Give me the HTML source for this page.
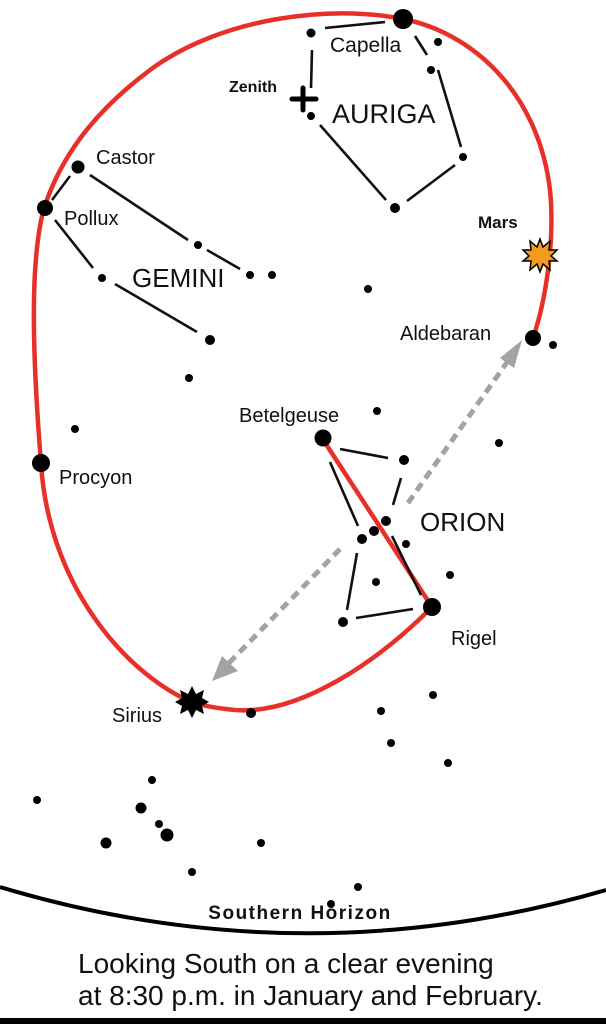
<!DOCTYPE html>
<html><head><style>body{margin:0;background:#fff}svg{display:block}text{font-family:"Liberation Sans",sans-serif;fill:#111}</style></head>
<body>
<svg width="606" height="1024" viewBox="0 0 606 1024" xmlns="http://www.w3.org/2000/svg">
<rect width="606" height="1024" fill="#fff"/>
<path d="M322,438 L432,607 C380,660 300,715 235,710 C215,708 200,705 191,702 C120,670 48,580 41,463 C32,350 30,260 44,208 C60,160 90,115 150,70 C220,18 330,4 403,19 C470,32 538,90 550,190 C555,240 546,300 533,338" fill="none" stroke="#e8302a" stroke-width="4.5"/>
<g stroke="#111" stroke-width="2.6" fill="none">
<line x1="325" y1="28" x2="385" y2="22"/>
<line x1="312" y1="50" x2="311" y2="88"/>
<line x1="415" y1="36" x2="427" y2="55"/>
<line x1="438" y1="70" x2="461" y2="147"/>
<line x1="455" y1="165" x2="407" y2="201"/>
<line x1="386" y1="200" x2="320" y2="125"/>
<line x1="70" y1="176" x2="52" y2="200"/>
<line x1="90" y1="175" x2="188" y2="240"/>
<line x1="207" y1="250" x2="240" y2="269"/>
<line x1="55" y1="220" x2="93" y2="268"/>
<line x1="115" y1="284" x2="197" y2="332"/>
<line x1="340" y1="449" x2="388" y2="458"/>
<line x1="401" y1="478" x2="393" y2="505"/>
<line x1="330" y1="462" x2="358" y2="526"/>
<line x1="357" y1="553" x2="347" y2="610"/>
<line x1="356" y1="618" x2="413" y2="609"/>
<line x1="392" y1="536" x2="421" y2="595"/>
</g>
<g stroke="#a3a3a3" stroke-width="5" stroke-dasharray="9,6" fill="none">
<line x1="408" y1="503" x2="510" y2="358"/>
<line x1="340" y1="549" x2="228" y2="664"/>
</g>
<polygon points="522,340 500,358 514,368" fill="#a3a3a3"/>
<polygon points="212,681 222,656 238,671" fill="#a3a3a3"/>
<g fill="#000">
<circle cx="403" cy="19" r="10"/>
<circle cx="311" cy="33" r="4.5"/><circle cx="438" cy="42" r="4"/><circle cx="431" cy="70" r="4"/>
<circle cx="463" cy="157" r="4"/><circle cx="395" cy="208" r="5"/><circle cx="311" cy="116" r="4"/>
<circle cx="78" cy="167" r="6.5"/><circle cx="45" cy="208" r="8"/>
<circle cx="198" cy="245" r="4"/><circle cx="250" cy="275" r="4"/><circle cx="272" cy="275" r="4"/>
<circle cx="102" cy="278" r="4"/><circle cx="210" cy="340" r="5"/><circle cx="189" cy="378" r="4"/>
<circle cx="368" cy="289" r="4"/><circle cx="533" cy="338" r="8"/><circle cx="553" cy="345" r="4"/>
<circle cx="75" cy="429" r="4"/><circle cx="377" cy="411" r="4"/><circle cx="499" cy="443" r="4"/>
<circle cx="41" cy="463" r="9"/>
<circle cx="323" cy="438" r="8.5"/><circle cx="404" cy="460" r="5"/>
<circle cx="386" cy="521" r="5"/><circle cx="374" cy="531" r="5"/><circle cx="362" cy="539" r="5"/>
<circle cx="406" cy="544" r="4"/><circle cx="376" cy="582" r="4"/><circle cx="450" cy="575" r="4"/>
<circle cx="343" cy="622" r="5"/><circle cx="432" cy="607" r="9"/>
<circle cx="251" cy="713" r="5"/><circle cx="433" cy="695" r="4"/><circle cx="381" cy="711" r="4"/>
<circle cx="391" cy="743" r="4"/><circle cx="448" cy="763" r="4"/>
<circle cx="152" cy="780" r="4"/><circle cx="37" cy="800" r="4"/><circle cx="141" cy="808" r="5.5"/>
<circle cx="159" cy="824" r="4"/><circle cx="167" cy="835" r="6.5"/><circle cx="106" cy="843" r="5.5"/>
<circle cx="261" cy="843" r="4"/><circle cx="192" cy="872" r="4"/><circle cx="358" cy="887" r="4"/><circle cx="331" cy="904" r="4"/>
</g>
<g stroke="#000" stroke-width="5" stroke-linecap="round"><line x1="303" y1="88" x2="303" y2="110"/><line x1="292" y1="99" x2="316" y2="99"/></g>
<polygon fill="#000" points="192,686 196,694 204,690 202,698 209,702 202,706 204,714 196,710 192,718 188,710 180,714 182,706 175,702 182,698 180,690 188,694"/>
<polygon fill="#f39a1f" stroke="#000" stroke-width="1.5" points="540,239 543,247 550,241 549,250 557,250 551,256 557,261 549,261 550,270 543,264 540,272 537,264 530,270 531,261 523,261 529,256 523,250 531,250 530,241 537,247"/>
<path d="M0,887 Q303,978 606,890" fill="none" stroke="#000" stroke-width="4"/>
<rect x="0" y="1018" width="606" height="6" fill="#000"/>
<text x="330" y="52" font-size="21">Capella</text>
<text x="229" y="92" font-size="16" font-weight="bold">Zenith</text>
<text x="332" y="123" font-size="27">AURIGA</text>
<text x="96" y="164" font-size="20">Castor</text>
<text x="64" y="225" font-size="20">Pollux</text>
<text x="132" y="287" font-size="26">GEMINI</text>
<text x="478" y="228" font-size="17" font-weight="bold">Mars</text>
<text x="400" y="340" font-size="20">Aldebaran</text>
<text x="239" y="422" font-size="20">Betelgeuse</text>
<text x="59" y="484" font-size="20">Procyon</text>
<text x="420" y="531" font-size="26">ORION</text>
<text x="451" y="645" font-size="20">Rigel</text>
<text x="112" y="722" font-size="20">Sirius</text>
<text x="300" y="919" font-size="19" font-weight="bold" text-anchor="middle" style="letter-spacing:1.5px">Southern Horizon</text>
<text x="78" y="973" font-size="28">Looking South on a clear evening</text>
<text x="78" y="1005" font-size="28">at 8:30 p.m. in January and February.</text>
</svg>
</body></html>
